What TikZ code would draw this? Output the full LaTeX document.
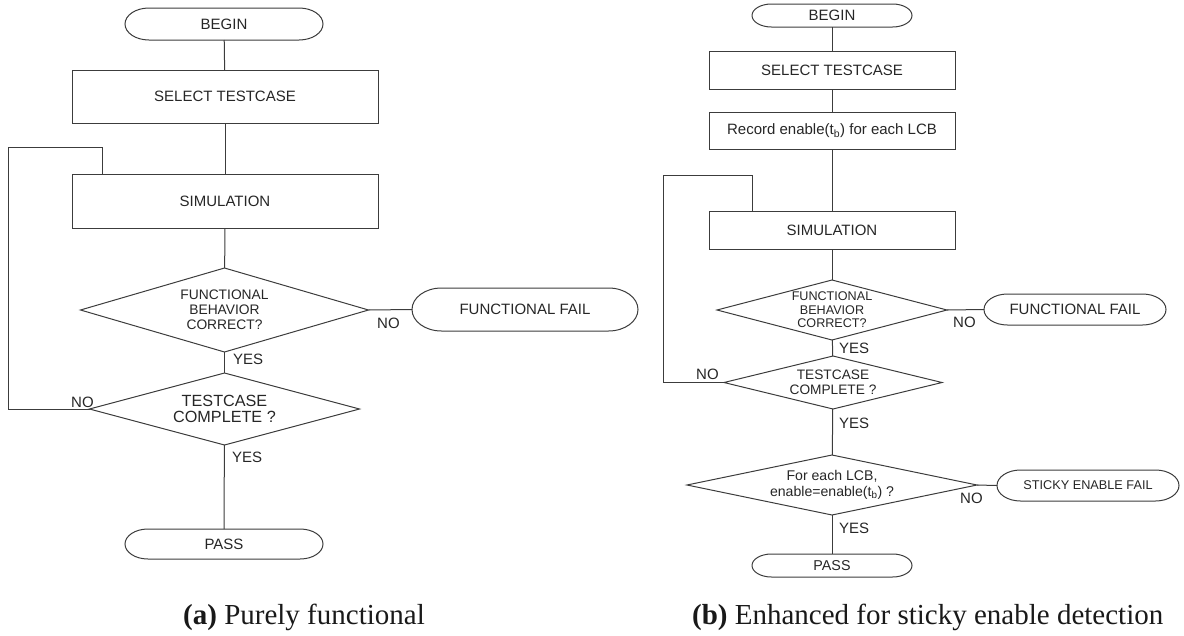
\documentclass[tikz,border=0pt]{standalone}
\usepackage{fontspec}
\setmainfont{Liberation Serif}
\newfontfamily\flowfont{Liberation Sans}
\usetikzlibrary{shapes.geometric}

\definecolor{linec}{HTML}{3C3C3C}
\definecolor{textc}{HTML}{262626}

\tikzset{
  flow/.style={draw=linec, line width=1pt},
  procbox/.style={draw=linec, line width=1pt, rectangle, inner sep=0pt, outer sep=0pt,
    text=textc, font={\flowfont\fontsize{15}{17}\selectfont}},
  termbox/.style={rectangle, inner sep=0pt, outer sep=0pt, text=textc},
  decision/.style={draw=linec, line width=1pt, diamond, inner sep=0pt, outer sep=0pt,
    align=center, text=textc},
  branch/.style={inner sep=0pt, anchor=west, text=textc, font={\flowfont\fontsize{15}{17}\selectfont}},
  caption/.style={inner sep=0pt, anchor=base west, text=black!90, font={\fontsize{29}{34}\selectfont}},
}

% terminal: name, centre, width, height, font size, text
\newcommand\terminal[6]{%
  \node[termbox, minimum width=#3, minimum height=#4,
        font={\flowfont\fontsize{#5}{#5}\selectfont}] (#1) at #2 {#6};
  \draw[flow] ([xshift=#4/2+8pt]#1.north west) -- ([xshift=-#4/2-8pt]#1.north east)
    arc[start angle=90, end angle=-90, x radius=#4/2+8pt, y radius=#4/2]
    -- ([xshift=#4/2+8pt]#1.south west)
    arc[start angle=270, end angle=90, x radius=#4/2+8pt, y radius=#4/2] -- cycle;}

\begin{document}
\begin{tikzpicture}[x=1pt, y=-1pt]
\useasboundingbox (0,0) rectangle (1184,635);

% ---------- (a) purely functional flow ----------
\terminal{beginA}{(224,24)}{198pt}{32pt}{15}{BEGIN}
\node[procbox, minimum width=306pt, minimum height=53pt] (selA) at (225,96.5) {SELECT TESTCASE};
\node[procbox, minimum width=306pt, minimum height=54pt] (simA) at (225,201) {SIMULATION};
\node[decision, minimum width=288pt, minimum height=84pt, shape aspect=3.43,
      font={\flowfont\fontsize{13.8}{15}\selectfont}] (funcA) at (224.5,310)
      {FUNCTIONAL\\BEHAVIOR\\CORRECT?};
\terminal{failA}{(525,309.5)}{226pt}{43pt}{15}{FUNCTIONAL FAIL}
\node[decision, minimum width=270pt, minimum height=72pt, shape aspect=3.75,
      font={\flowfont\fontsize{16.2}{16.5}\selectfont}] (doneA) at (224.5,409)
      {TESTCASE\\COMPLETE ?};
\terminal{passA}{(224,544)}{198pt}{30pt}{15}{PASS}
\coordinate (loopA) at (8,147);

\draw[flow] (beginA) -- (selA);
\draw[flow] (selA) -- (simA);
\draw[flow] (simA) -- (funcA);
\draw[flow] (funcA.east) -- (failA.west);
\draw[flow] (funcA) -- (doneA);
\draw[flow] (doneA) -- (passA);
\draw[flow] (doneA.west) -| (loopA) -| ([xshift=30pt]simA.north west);

\node[branch] (noA1) at (377,323) {NO};
\node[branch] (yesA1) at (233,359) {YES};
\node[branch] (noA2) at (71,402) {NO};
\node[branch] (yesA2) at (232,457) {YES};

\node[caption] (capA) at (183,624) {\textbf{(a)} Purely functional};

% ---------- (b) flow with sticky enable check ----------
\terminal{beginB}{(832,15.5)}{160pt}{23pt}{15}{BEGIN}
\node[procbox, minimum width=246pt, minimum height=38pt] (selB) at (832,70) {SELECT TESTCASE};
\node[procbox, minimum width=246pt, minimum height=37pt] (recB) at (832,130.5)
      {Record enable(t\textsubscript{b}) for each LCB};
\node[procbox, minimum width=246pt, minimum height=38pt] (simB) at (832,230) {SIMULATION};
\node[decision, minimum width=230pt, minimum height=60pt, shape aspect=3.83,
      font={\flowfont\fontsize{12.6}{13.5}\selectfont}] (funcB) at (832,310)
      {FUNCTIONAL\\BEHAVIOR\\CORRECT?};
\terminal{failB}{(1075,309.5)}{182pt}{31pt}{15}{FUNCTIONAL FAIL}
\node[decision, minimum width=218pt, minimum height=53pt, shape aspect=4.1,
      font={\flowfont\fontsize{13.7}{15}\selectfont}] (doneB) at (833,382.5)
      {TESTCASE\\COMPLETE ?};
\node[decision, minimum width=290pt, minimum height=60pt, shape aspect=4.83,
      font={\flowfont\fontsize{14.1}{16}\selectfont}] (stickB) at (832,485)
      {For each LCB,\\enable=enable(t\textsubscript{b}) ?};
\terminal{stickFailB}{(1088,485.5)}{182pt}{31pt}{12.7}{STICKY ENABLE FAIL}
\terminal{passB}{(832,565.5)}{160pt}{23pt}{14.3}{PASS}
\coordinate (loopB) at (663,175);

\draw[flow] (beginB) -- (selB);
\draw[flow] (selB) -- (recB);
\draw[flow] (recB) -- (simB);
\draw[flow] (simB) -- (funcB);
\draw[flow] (funcB.east) -- (failB.west);
\draw[flow] (funcB) -- (doneB);
\draw[flow] (doneB) -- (stickB);
\draw[flow] (stickB.east) -- (stickFailB.west);
\draw[flow] (stickB) -- (passB);
\draw[flow] (doneB.west) -| (loopB) -| ([xshift=43pt]simB.north west);

\node[branch] (noB1) at (953,322) {NO};
\node[branch] (yesB1) at (839,348) {YES};
\node[branch] (noB2) at (696,374) {NO};
\node[branch] (yesB2) at (839,423) {YES};
\node[branch] (noB3) at (960,498) {NO};
\node[branch] (yesB3) at (839,528) {YES};

\node[caption] (capB) at (692,624) {\textbf{(b)} Enhanced for sticky enable detection};
\end{tikzpicture}
\end{document}
